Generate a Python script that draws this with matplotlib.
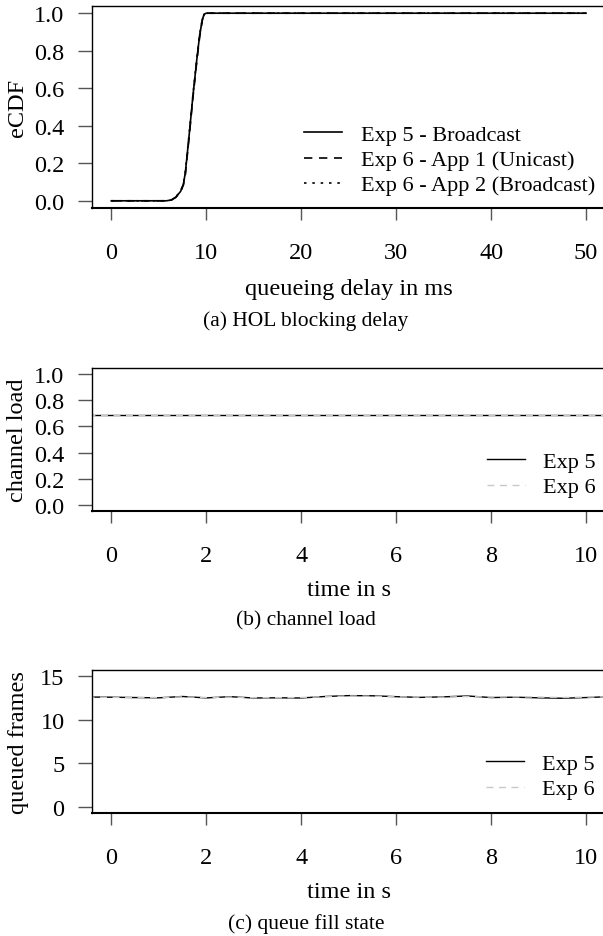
import matplotlib
matplotlib.use("Agg")
import matplotlib.pyplot as plt
import numpy as np

# ---------------- data ----------------
# (a) HOL blocking delay eCDF
delay_ms = [0, 5.8, 6.3, 6.8, 7.3, 7.6, 7.8, 8.2, 8.6, 9.0, 9.3, 9.6, 9.8, 10.0, 50]
ecdf_exp5 = [0, 0, 0.004, 0.02, 0.05, 0.09, 0.15, 0.35, 0.56, 0.75, 0.88, 0.97, 0.995, 1.0, 1.0]
ecdf_exp6_app1 = [0, 0, 0.003, 0.018, 0.048, 0.085, 0.14, 0.34, 0.55, 0.74, 0.87, 0.965, 0.993, 1.0, 1.0]
ecdf_exp6_app2 = [0, 0, 0.004, 0.021, 0.052, 0.092, 0.155, 0.355, 0.565, 0.755, 0.885, 0.972, 0.996, 1.0, 1.0]
labels_a = ["Exp 5 - Broadcast", "Exp 6 - App 1 (Unicast)", "Exp 6 - App 2 (Broadcast)"]
xticks_a = [0, 10, 20, 30, 40, 50]
yticks_a = [0.0, 0.2, 0.4, 0.6, 0.8, 1.0]

# (b) channel load / (c) queue fill state
time_s = [-0.5, 0, 0.5, 1, 1.5, 2, 2.5, 3, 3.5, 4, 4.5, 5, 5.5, 6, 6.5, 7, 7.5, 8, 8.5, 9, 9.5, 10, 10.5]
load_exp5 = [0.683] * len(time_s)
load_exp6 = [0.683] * len(time_s)
queue_exp5 = [12.56, 12.54, 12.5, 12.47, 12.62, 12.46, 12.6, 12.45, 12.47, 12.45, 12.62, 12.72,
              12.7, 12.6, 12.52, 12.58, 12.68, 12.5, 12.54, 12.47, 12.42, 12.5, 12.6]
queue_exp6 = [12.55, 12.52, 12.51, 12.5, 12.58, 12.5, 12.56, 12.48, 12.48, 12.5, 12.6, 12.68,
              12.66, 12.58, 12.55, 12.55, 12.62, 12.55, 12.58, 12.55, 12.5, 12.55, 12.58]
labels_bc = ["Exp 5", "Exp 6"]
xticks_bc = [0, 2, 4, 6, 8, 10]
yticks_b = [0.0, 0.2, 0.4, 0.6, 0.8, 1.0]
yticks_c = [0, 5, 10, 15]

# ---------------- style ----------------
plt.rcParams['font.family'] = ['Liberation Serif', 'DejaVu Serif']
W, H = 603, 937
fig = plt.figure(figsize=(W / 100, H / 100), dpi=100)

FS = 17.5
LFS = 16
CFS = 15.5
left_px, right_px = 92.3, 605.0


def make_ax(top_px, bot_px):
    ax = fig.add_axes([left_px / W, 1 - bot_px / H, (right_px - left_px) / W, (bot_px - top_px) / H])
    for s in ax.spines.values():
        s.set_linewidth(1.0)
        s.set_color('black')
    ax.spines['bottom'].set_linewidth(1.5)
    ax.tick_params(axis='both', direction='out', color='#555555', width=1.0, labelsize=FS)
    ax.tick_params(axis='x', length=8.6, pad=16)
    ax.tick_params(axis='y', length=10, pad=10)
    return ax


def px_to_fig(x, y):
    return x / W, 1 - y / H


# ---- (a) ----
axa = make_ax(6.7, 209.3)
axa.plot(delay_ms, ecdf_exp5, color='black', lw=1.2, ls='-', label=labels_a[0])
axa.plot(delay_ms, ecdf_exp6_app1, color='black', lw=1.2, ls=(0, (5, 4)), label=labels_a[1])
axa.plot(delay_ms, ecdf_exp6_app2, color='black', lw=1.2, ls=(0, (1.5, 3.5)), label=labels_a[2])
axa.set_xlim(-2, 52)
axa.set_ylim(-0.04, 1.04)
axa.set_xticks(xticks_a)
axa.set_xticklabels([str(v) for v in xticks_a])
axa.set_yticks(yticks_a)
axa.set_yticklabels([f"{v:.1f}" for v in yticks_a])
axa.set_xlabel("queueing delay in ms", fontsize=FS, va='center')
axa.xaxis.set_label_coords(0.5, -80 / 202.6)
axa.set_ylabel("eCDF", fontsize=FS, va='center')
axa.yaxis.set_label_coords((18 - left_px) / (right_px - left_px), 0.5)
axa.legend(loc='upper left', bbox_to_anchor=px_to_fig(304, 125.5), bbox_transform=fig.transFigure,
           frameon=False, borderpad=0, borderaxespad=0, handlelength=1.7, handletextpad=0.88,
           labelspacing=0.21, fontsize=LFS)

# ---- (b) ----
axb = make_ax(369.3, 511.7)
axb.plot(time_s, load_exp5, color='black', lw=1.0, ls='-', label=labels_bc[0])
axb.plot(time_s, load_exp6, color='#c8c8c8', lw=1.0, ls=(0, (5, 4)), label=labels_bc[1])
axb.set_xlim(-0.4, 10.4)
axb.set_ylim(-0.04, 1.04)
axb.set_xticks(xticks_bc)
axb.set_xticklabels([str(v) for v in xticks_bc])
axb.set_yticks(yticks_b)
axb.set_yticklabels([f"{v:.1f}" for v in yticks_b])
axb.set_xlabel("time in s", fontsize=FS, va='center')
axb.xaxis.set_label_coords(0.5, -78.5 / 142.4)
axb.set_ylabel("channel load", fontsize=FS, va='center')
axb.yaxis.set_label_coords((17.5 - left_px) / (right_px - left_px), 0.5)
axb.legend(loc='upper left', bbox_to_anchor=px_to_fig(486.5, 452.5), bbox_transform=fig.transFigure,
           frameon=False, borderpad=0, borderaxespad=0, handlelength=1.73, handletextpad=0.8,
           labelspacing=0.21, fontsize=LFS)

# ---- (c) ----
axc = make_ax(671.3, 813.7)
axc.plot(time_s, queue_exp5, color='black', lw=1.0, ls='-', label=labels_bc[0])
axc.plot(time_s, queue_exp6, color='#c8c8c8', lw=1.0, ls=(0, (5, 4)), label=labels_bc[1])
axc.set_xlim(-0.4, 10.4)
axc.set_ylim(-0.6, 15.6)
axc.set_xticks(xticks_bc)
axc.set_xticklabels([str(v) for v in xticks_bc])
axc.set_yticks(yticks_c)
axc.set_yticklabels([str(v) for v in yticks_c])
axc.set_xlabel("time in s", fontsize=FS, va='center')
axc.xaxis.set_label_coords(0.5, -78.5 / 142.4)
axc.set_ylabel("queued frames", fontsize=FS, va='center')
axc.yaxis.set_label_coords((19 - left_px) / (right_px - left_px), 0.5)
axc.legend(loc='upper left', bbox_to_anchor=px_to_fig(485.7, 754.5), bbox_transform=fig.transFigure,
           frameon=False, borderpad=0, borderaxespad=0, handlelength=1.73, handletextpad=0.8,
           labelspacing=0.21, fontsize=LFS)

# ---- captions ----
fig.text(306 / W, 1 - 321.5 / H, "(a) HOL blocking delay", ha='center', va='center', fontsize=CFS)
fig.text(306 / W, 1 - 621 / H, "(b) channel load", ha='center', va='center', fontsize=CFS)
fig.text(306 / W, 1 - 924 / H, "(c) queue fill state", ha='center', va='center', fontsize=CFS)

fig.savefig("out.png", dpi=100)
